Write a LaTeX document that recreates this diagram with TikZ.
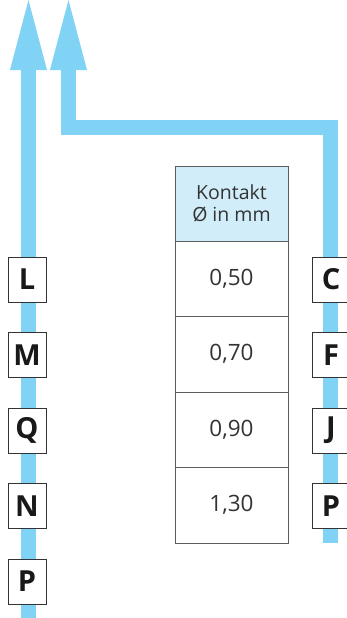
\documentclass[tikz,border=0pt]{standalone}
\usepackage{fontspec}
\setmainfont{Open Sans}
\usetikzlibrary{arrows.meta}
\definecolor{arrowblue}{HTML}{80D3F5}
\definecolor{headblue}{HTML}{D2EDFA}
\definecolor{boxline}{HTML}{333333}
\definecolor{txt}{HTML}{333333}
\tikzset{
  flow/.style={draw=arrowblue, line width=15pt, line join=miter,
    -{Triangle[width=37pt,length=70pt,line width=0pt]}},
  letterbox/.style={draw=boxline, line width=0.9pt, fill=white,
    minimum width=38pt, minimum height=45pt, inner sep=0pt,
    font=\fontsize{29}{30}\selectfont\bfseries, text=black!90},
  cell/.style={draw=boxline!80, line width=1pt, fill=white,
    minimum width=113pt, minimum height=75.5pt, inner sep=0pt,
    font=\fontsize{22.5}{24}\selectfont, text=txt},
  headcell/.style={cell, fill=headblue, minimum height=75pt,
    font=\fontsize{19.5}{22}\selectfont, align=center}
}
\begin{document}
\begin{tikzpicture}[x=1pt,y=-1pt]
\useasboundingbox (0,0) rectangle (347,618);
\begin{scope}
\clip (0,0) rectangle (347,618);
% connector endpoints
\coordinate (lstart) at (28.5,620);
\coordinate (ltip) at (28.5,0);
\coordinate (rstart) at (330.5,543);
\coordinate (rbend) at (330.5,127);
\coordinate (lbend) at (68.5,127);
\coordinate (rtip) at (68.5,0);
\draw[flow] (lstart) -- (ltip);
\draw[flow] (rstart) -- (rbend) -- (lbend) -- (rtip);
% left letters
\node[letterbox] (L)  at (27,279.5) {L};
\node[letterbox] (M)  at (27,355) {M};
\node[letterbox] (Q)  at (27,430.5) {Q};
\node[letterbox] (N)  at (27,506) {N};
\node[letterbox] (P1) at (27,581.5) {P};
% right letters
\node[letterbox] (C)  at (331,279.5) {C};
\node[letterbox] (F)  at (331,355) {F};
\node[letterbox] (J)  at (331,430.5) {J};
\node[letterbox] (P2) at (331,506) {P};
% table
\node[headcell] (h) at (231.5,203.5) {Kontakt\\Ø in mm};
\node[cell] (r1) at (231.5,278.75) {0,50};
\node[cell] (r2) at (231.5,354.25) {0,70};
\node[cell] (r3) at (231.5,429.75) {0,90};
\node[cell] (r4) at (231.5,505.25) {1,30};
\end{scope}
\end{tikzpicture}
\end{document}
